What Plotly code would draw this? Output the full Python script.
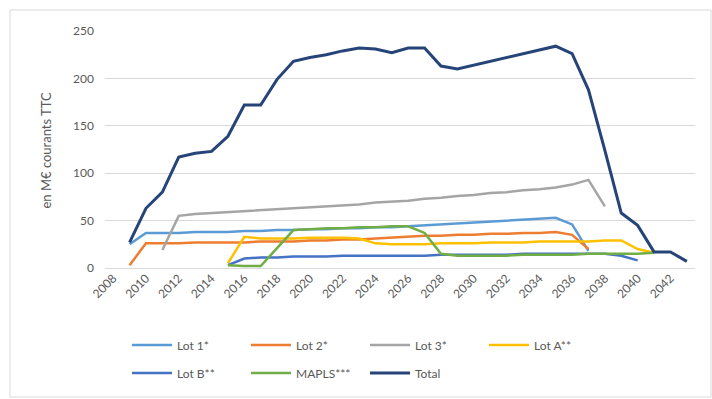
import plotly.graph_objects as go

years = list(range(2008, 2044))

lot1_years = list(range(2009, 2038))
lot1 = [25, 37, 37, 37, 38, 38, 38, 39, 39, 40, 40, 41, 41, 42, 42, 43, 43, 44, 45, 46, 47, 48, 49, 50, 51, 52, 53, 46, 18]

lot2_years = list(range(2009, 2038))
lot2 = [3, 26, 26, 26, 27, 27, 27, 27, 28, 28, 28, 29, 29, 30, 30, 31, 32, 33, 34, 34, 35, 35, 36, 36, 37, 37, 38, 35, 20]

lot3_years = list(range(2011, 2039))
lot3 = [19, 55, 57, 58, 59, 60, 61, 62, 63, 64, 65, 66, 67, 69, 70, 71, 73, 74, 76, 77, 79, 80, 82, 83, 85, 88, 93, 65]

lotA_years = list(range(2015, 2042))
lotA = [5, 33, 31, 31, 31, 32, 32, 32, 31, 26, 25, 25, 25, 26, 26, 26, 27, 27, 27, 28, 28, 28, 28, 29, 29, 20, 16]

lotB_years = list(range(2015, 2041))
lotB = [3, 10, 11, 11, 12, 12, 12, 13, 13, 13, 13, 13, 13, 14, 14, 14, 14, 14, 15, 15, 15, 15, 15, 15, 13, 8]

mapls_years = list(range(2015, 2042))
mapls = [3, 2, 2, 21, 40, 41, 42, 42, 43, 43, 44, 44, 37, 15, 13, 13, 13, 13, 14, 14, 14, 14, 15, 15, 15, 15, 16]

total_years = list(range(2009, 2044))
total = [27, 63, 80, 117, 121, 123, 139, 172, 172, 199, 218, 222, 225, 229, 232, 231, 227, 232, 232, 213, 210, 214, 218, 222, 226, 230, 234, 226, 188, 124, 58, 45, 17, 17, 7]

tick_years = list(range(2008, 2043, 2))

series = [
    ("Lot 1*", lot1_years, lot1, "#5B9BD5", 2.5, "legend"),
    ("Lot 2*", lot2_years, lot2, "#ED7D31", 2.5, "legend"),
    ("Lot 3*", lot3_years, lot3, "#A5A5A5", 2.5, "legend"),
    ("Lot A**", lotA_years, lotA, "#FFC000", 2.5, "legend"),
    ("Lot B**", lotB_years, lotB, "#4472C4", 2.5, "legend2"),
    ("MAPLS***", mapls_years, mapls, "#70AD47", 2.5, "legend2"),
    ("Total", total_years, total, "#264478", 3, "legend2"),
]

fig = go.Figure()
for name, xs, ys, color, w, leg in series:
    fig.add_trace(go.Scatter(x=xs, y=ys, name=name, mode="lines",
                             line=dict(color=color, width=w),
                             legend=leg))

font = dict(family="Lato, Liberation Sans, sans-serif", size=12, color="#595959")

fig.update_layout(
    width=712, height=399,
    margin=dict(l=105, r=17, t=31, b=131),
    paper_bgcolor="white", plot_bgcolor="white",
    font=font,
    xaxis=dict(range=[2007.5, 2043.5], tickmode="array", tickvals=tick_years,
               ticktext=[str(t) for t in tick_years], tickangle=-45,
               showgrid=False, zeroline=False, showline=False, ticks=""),
    yaxis=dict(range=[0, 250], dtick=50, showgrid=True, gridcolor="#D9D9D9",
               gridwidth=1, zeroline=True, zerolinecolor="#D9D9D9",
               zerolinewidth=1, showline=False, ticks="", ticklabelstandoff=10),
    legend=dict(orientation="h", x=(127 - 105) / 590, y=-(345 - 268) / 237,
                xanchor="left", yanchor="middle", entrywidth=64,
                entrywidthmode="pixels", font=font, bgcolor="rgba(0,0,0,0)",
                itemwidth=40, tracegroupgap=0),
    legend2=dict(orientation="h", x=(127 - 105) / 590, y=-(373 - 268) / 237,
                 xanchor="left", yanchor="middle", entrywidth=64,
                 entrywidthmode="pixels", font=font, bgcolor="rgba(0,0,0,0)",
                 itemwidth=40, tracegroupgap=0),
    showlegend=True,
)

fig.add_annotation(text="en M€ courants TTC", textangle=-90, xref="paper",
                   yref="paper", x=(45 - 105) / 590, y=0.5, xanchor="center",
                   yanchor="middle", showarrow=False,
                   font=dict(family="Lato, Liberation Sans, sans-serif",
                             size=13, color="#595959"))

fig.add_shape(type="rect", xref="paper", yref="paper",
              x0=(10 - 105) / 590, x1=(711 - 105) / 590,
              y0=(268 - 397) / 237, y1=(268 - 10) / 237,
              line=dict(color="#D9D9D9", width=1), layer="below")

fig.write_html("out.html")
